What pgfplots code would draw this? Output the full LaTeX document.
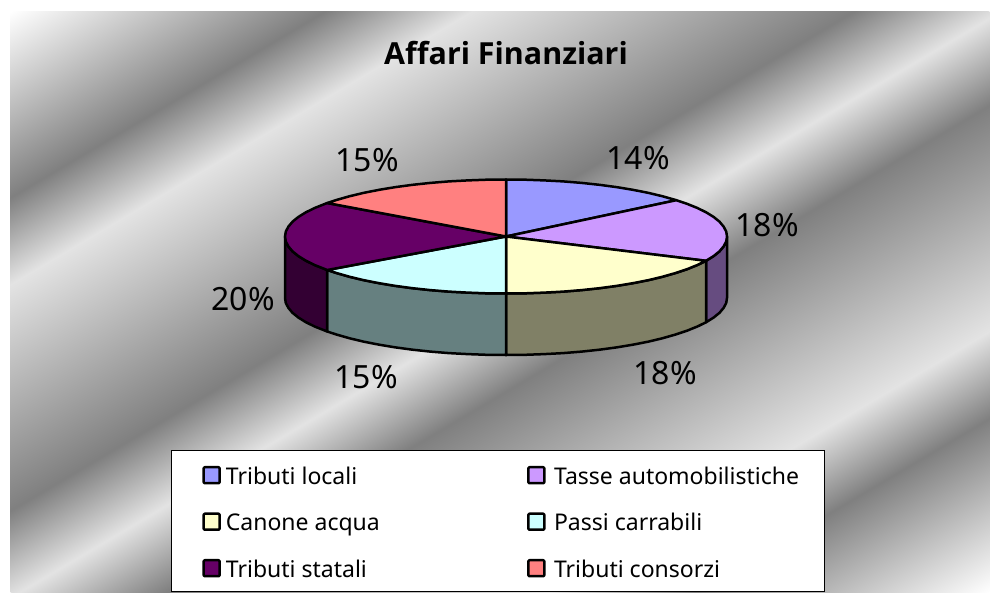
\documentclass[border=0pt]{standalone}
\usepackage{fontspec}
\setmainfont{Noto Sans}
\newfontfamily\titlef{Open Sans}
\usepackage{pgfplots}
\pgfplotsset{compat=1.18}
\definecolor{bgd}{gray}{0.50}
\definecolor{bgl}{gray}{0.89}
\definecolor{c1}{HTML}{9999FF}
\definecolor{c2}{HTML}{CC99FF}
\definecolor{c3}{HTML}{FFFFCC}
\definecolor{c4}{HTML}{CCFFFF}
\definecolor{c5}{HTML}{660066}
\definecolor{c6}{HTML}{FF8080}
\definecolor{s2}{HTML}{664C80}
\definecolor{s3}{HTML}{808066}
\definecolor{s4}{HTML}{668080}
\definecolor{s5}{HTML}{330033}
\pgfdeclarehorizontalshading{silver}{100bp}{color(0bp)=(white);color(16bp)=(bgd);color(23.5bp)=(bgl);color(43bp)=(bgd);color(50.5bp)=(bgl);color(58bp)=(bgd);color(77.5bp)=(bgl);color(85bp)=(bgd);color(100bp)=(white)}
\newcommand{\lblfont}{\fontsize{32}{37}\selectfont}
\begin{document}
\begin{tikzpicture}[x=1pt,y=1pt]
\path[use as bounding box] (0,0) rectangle (990,592);
\begin{scope}
\clip (10,0) rectangle (990,580);
\pgftransformcm{9.7634}{-5.778}{9.7634}{5.778}{\pgfpoint{500pt}{290pt}}
\pgflowlevelsynccm
\pgfuseshading{silver}
\end{scope}
\begin{axis}[
  at={(0,0)},anchor=south west,
  width=990pt,height=592pt,scale only axis,
  xmin=0,xmax=990,ymin=0,ymax=592,y dir=reverse,
  hide axis,clip=false,
  legend columns=2,
  legend cell align=left,
  legend image code/.code={\path (0pt,0pt); \draw[#1,line width=2.5pt,rounded corners=1pt] (5.2pt,1pt) rectangle (21.2pt,17pt);},
  legend style={at={(0.1727,0.2399)},anchor=north west,draw=black,line width=1.5pt,fill=white,
    inner xsep=25.5pt,inner ysep=5.5pt,row sep=9.5pt,
    font=\fontsize{23}{27}\selectfont,
    nodes={inner sep=0pt,text height=28pt,text depth=9pt,anchor=base west},
    /tikz/column 1/.style={column sep=5pt},
    /tikz/column 2/.style={column sep=142pt},
    /tikz/column 3/.style={column sep=8.5pt}},
  every axis plot/.append style={draw=black,line width=2.5pt,line join=round},
]
% side walls
\addplot[forget plot,fill=s2] coordinates {(727,236.5)(726.2,241.5)(723.6,246.4)(719.5,251.3)(713.7,256)(706,260.8)(706,322.3)(713.7,317.5)(719.5,312.8)(723.6,307.9)(726.2,303)(727,298)} --cycle;
\addplot[forget plot,fill=s3] coordinates {(706,260.8)(697.4,265)(687,269.2)(675.3,273.1)(662.3,276.8)(648.1,280.2)(632.8,283.2)(616.5,285.9)(599.4,288.2)(581.6,290.1)(563.2,291.6)(544.4,292.6)(525.3,293.3)(506,293.5)(506,355)(525.3,354.8)(544.4,354.1)(563.2,353.1)(581.6,351.6)(599.4,349.7)(616.5,347.4)(632.8,344.7)(648.1,341.7)(662.3,338.3)(675.3,334.6)(687,330.7)(697.4,326.5)(706,322.3)} --cycle;
\addplot[forget plot,fill=s4] coordinates {(506,293.5)(486.7,293.3)(467.6,292.6)(448.8,291.6)(430.4,290.1)(412.6,288.2)(395.5,285.9)(379.2,283.2)(363.9,280.2)(349.7,276.8)(336.7,273.1)(327.2,270)(327.2,331.5)(336.7,334.6)(349.7,338.3)(363.9,341.7)(379.2,344.7)(395.5,347.4)(412.6,349.7)(430.4,351.6)(448.8,353.1)(467.6,354.1)(486.7,354.8)(506,355)} --cycle;
\addplot[forget plot,fill=s5] coordinates {(327.2,270)(314.6,265)(305.7,260.6)(298.3,256)(292.5,251.3)(288.4,246.4)(285.8,241.5)(285,236.5)(285,298)(285.8,303)(288.4,307.9)(292.5,312.8)(298.3,317.5)(305.7,322.1)(314.6,326.5)(327.2,331.5)} --cycle;
% top faces
\addplot[fill=c1] coordinates {(506,236.5)(506,179.5)(525.3,179.7)(544.4,180.4)(563.2,181.4)(581.6,182.9)(599.4,184.8)(616.5,187.1)(632.8,189.8)(648.1,192.8)(662.3,196.2)(676.3,200.2)} --cycle;
\addlegendentry{Tributi locali}
\addplot[fill=c2] coordinates {(506,236.5)(676.3,200.2)(687,203.8)(697.4,208)(706.3,212.4)(713.7,217)(719.5,221.7)(723.6,226.6)(726.2,231.5)(727,236.5)(726.2,241.5)(723.6,246.4)(719.5,251.3)(713.7,256)(706,260.8)} --cycle;
\addlegendentry{Tasse automobilistiche}
\addplot[fill=c3] coordinates {(506,236.5)(706,260.8)(697.4,265)(687,269.2)(675.3,273.1)(662.3,276.8)(648.1,280.2)(632.8,283.2)(616.5,285.9)(599.4,288.2)(581.6,290.1)(563.2,291.6)(544.4,292.6)(525.3,293.3)(506,293.5)} --cycle;
\addlegendentry{Canone acqua}
\addplot[fill=c4] coordinates {(506,236.5)(506,293.5)(486.7,293.3)(467.6,292.6)(448.8,291.6)(430.4,290.1)(412.6,288.2)(395.5,285.9)(379.2,283.2)(363.9,280.2)(349.7,276.8)(336.7,273.1)(327.2,270)} --cycle;
\addlegendentry{Passi carrabili}
\addplot[fill=c5] coordinates {(506,236.5)(327.2,270)(314.6,265)(305.7,260.6)(298.3,256)(292.5,251.3)(288.4,246.4)(285.8,241.5)(285,236.5)(285.8,231.5)(288.4,226.6)(292.5,221.7)(298.3,217)(305.7,212.4)(314.6,208)(327.2,203)} --cycle;
\addlegendentry{Tributi statali}
\addplot[fill=c6] coordinates {(506,236.5)(327.2,203)(336.7,199.9)(349.7,196.2)(363.9,192.8)(379.2,189.8)(395.5,187.1)(412.6,184.8)(430.4,182.9)(448.8,181.4)(467.6,180.4)(486.7,179.7)(506,179.5)} --cycle;
\addlegendentry{Tributi consorzi}
\node[font=\fontsize{30.4}{35}\selectfont\titlef\bfseries] at (axis cs:506,53) {Affari Finanziari};
\node[font=\lblfont] at (axis cs:638,158) {14\%};
\node[font=\lblfont] at (axis cs:767,225) {18\%};
\node[font=\lblfont] at (axis cs:665,373) {18\%};
\node[font=\lblfont] at (axis cs:366,377) {15\%};
\node[font=\lblfont] at (axis cs:243,299) {20\%};
\node[font=\lblfont] at (axis cs:367,160) {15\%};
\end{axis}
\end{tikzpicture}
\end{document}
